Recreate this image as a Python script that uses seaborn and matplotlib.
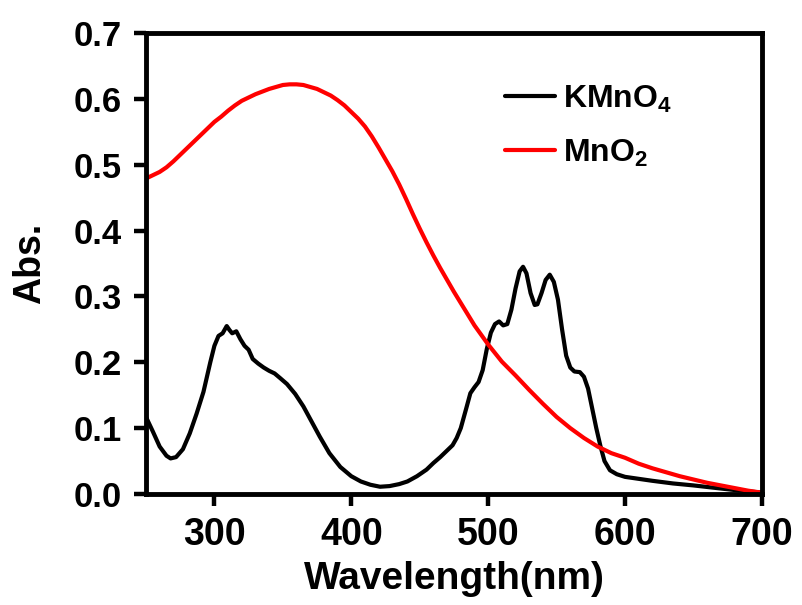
import matplotlib
matplotlib.use('Agg')
import matplotlib.pyplot as plt
import seaborn as sns
import pandas as pd

# KMnO4 spectrum
kmno4_wl = [250, 255, 260, 265, 268, 272, 277, 282, 287, 292, 297, 300, 303, 306, 309, 311,
            313, 316, 319, 322, 325, 328, 332, 336, 340, 344, 348, 353, 359, 365, 371, 377,
            384, 392, 400, 407, 414, 421, 428, 435, 441, 448, 455, 460, 465, 470, 474, 477,
            480, 484, 487, 490, 493, 496, 499, 502, 505, 508, 511, 514, 517, 520, 523, 525.5,
            528, 531, 534, 536, 539, 542, 545, 548, 551, 554, 557, 560, 563, 567, 570, 573,
            576, 579, 582, 585, 589, 594, 600, 610, 620, 635, 650, 667, 680, 690, 700]
kmno4_abs = [0.117, 0.095, 0.072, 0.058, 0.054, 0.056, 0.068, 0.092, 0.122, 0.155, 0.200, 0.225,
             0.240, 0.244, 0.255, 0.249, 0.244, 0.247, 0.235, 0.225, 0.219, 0.205, 0.198, 0.192,
             0.187, 0.183, 0.176, 0.167, 0.152, 0.133, 0.110, 0.087, 0.062, 0.041, 0.027, 0.019,
             0.014, 0.011, 0.012, 0.015, 0.019, 0.027, 0.037, 0.047, 0.056, 0.066, 0.074, 0.085,
             0.100, 0.130, 0.153, 0.162, 0.170, 0.188, 0.220, 0.245, 0.258, 0.262, 0.256, 0.258,
             0.280, 0.312, 0.338, 0.345, 0.335, 0.305, 0.287, 0.288, 0.305, 0.325, 0.333, 0.322,
             0.295, 0.250, 0.210, 0.192, 0.186, 0.185, 0.178, 0.160, 0.130, 0.100, 0.073, 0.050,
             0.036, 0.030, 0.026, 0.023, 0.020, 0.016, 0.013, 0.009, 0.006, 0.004, 0.002]

# MnO2 spectrum
mno2_wl = [250, 255, 260, 265, 270, 275, 280, 285, 290, 295, 300, 305, 310, 315, 320, 325,
           330, 335, 340, 345, 350, 355, 360, 365, 370, 375, 380, 385, 390, 395, 400, 405,
           410, 415, 420, 425, 430, 435, 440, 445, 450, 455, 460, 465, 470, 475, 480, 490,
           500, 510, 520, 530, 540, 550, 560, 570, 580, 590, 600, 610, 620, 630, 640, 650,
           660, 670, 680, 690, 700]
mno2_abs = [0.479, 0.484, 0.489, 0.496, 0.505, 0.515, 0.525, 0.535, 0.545, 0.555, 0.565, 0.573,
            0.582, 0.590, 0.597, 0.602, 0.607, 0.611, 0.615, 0.618, 0.621, 0.622, 0.622, 0.621,
            0.618, 0.615, 0.610, 0.605, 0.598, 0.590, 0.580, 0.570, 0.558, 0.543, 0.526, 0.508,
            0.490, 0.470, 0.448, 0.425, 0.403, 0.382, 0.362, 0.343, 0.325, 0.307, 0.290, 0.256,
            0.227, 0.201, 0.180, 0.158, 0.137, 0.117, 0.100, 0.085, 0.072, 0.062, 0.055, 0.046,
            0.039, 0.033, 0.027, 0.022, 0.017, 0.013, 0.009, 0.005, 0.002]

labels = [r'$\mathbf{KMnO_4}$', r'$\mathbf{MnO_2}$']
colors = ['black', '#ff0000']

df = pd.concat([
    pd.DataFrame({'wl': kmno4_wl, 'abs': kmno4_abs, 'sample': labels[0]}),
    pd.DataFrame({'wl': mno2_wl, 'abs': mno2_abs, 'sample': labels[1]}),
])

sns.set_style("ticks")
plt.rcParams['font.family'] = ['Liberation Sans', 'DejaVu Sans']
plt.rcParams['font.weight'] = 'bold'
plt.rcParams['mathtext.fontset'] = 'custom'
plt.rcParams['mathtext.rm'] = 'Liberation Sans'
plt.rcParams['mathtext.bf'] = 'Liberation Sans:bold'
for key in ['text.color', 'axes.labelcolor', 'xtick.color', 'ytick.color']:
    plt.rcParams[key] = 'black'

fig = plt.figure(figsize=(8.02, 6.05), dpi=100)
ax = fig.add_axes([0.182, 0.1835, 0.768, 0.762])

sns.lineplot(data=df, x='wl', y='abs', hue='sample', palette=colors,
             estimator=None, sort=False, linewidth=3.0, ax=ax)

ax.set_xlim(250, 700)
ax.set_ylim(0, 0.7)
ax.set_xticks([300, 400, 500, 600, 700])
ax.set_yticks([0.0, 0.1, 0.2, 0.3, 0.4, 0.5, 0.6, 0.7])
ax.set_yticklabels(['0.0', '0.1', '0.2', '0.3', '0.4', '0.5', '0.6', '0.7'])
ax.set_xlabel('Wavelength(nm)', fontsize=28, fontweight='bold', labelpad=6)
ax.set_ylabel('Abs.', fontsize=27, fontweight='bold', labelpad=18)
ax.tick_params(direction='out', length=8.5, width=3.2)
ax.tick_params(axis='x', labelsize=27, pad=8)
ax.tick_params(axis='y', labelsize=25, pad=9)
for lbl in ax.get_xticklabels() + ax.get_yticklabels():
    lbl.set_fontweight('bold')
for side in ['left', 'right', 'top', 'bottom']:
    ax.spines[side].set_visible(True)
    ax.spines[side].set_linewidth(3.5)
    ax.spines[side].set_color('black')

ax.legend(title=None, frameon=False, loc='upper left', bbox_to_anchor=(0.557, 0.925),
          fontsize=23, handlelength=1.55, handletextpad=0.25, labelspacing=0.72, borderpad=0)

fig.savefig('out.png', dpi=100)
